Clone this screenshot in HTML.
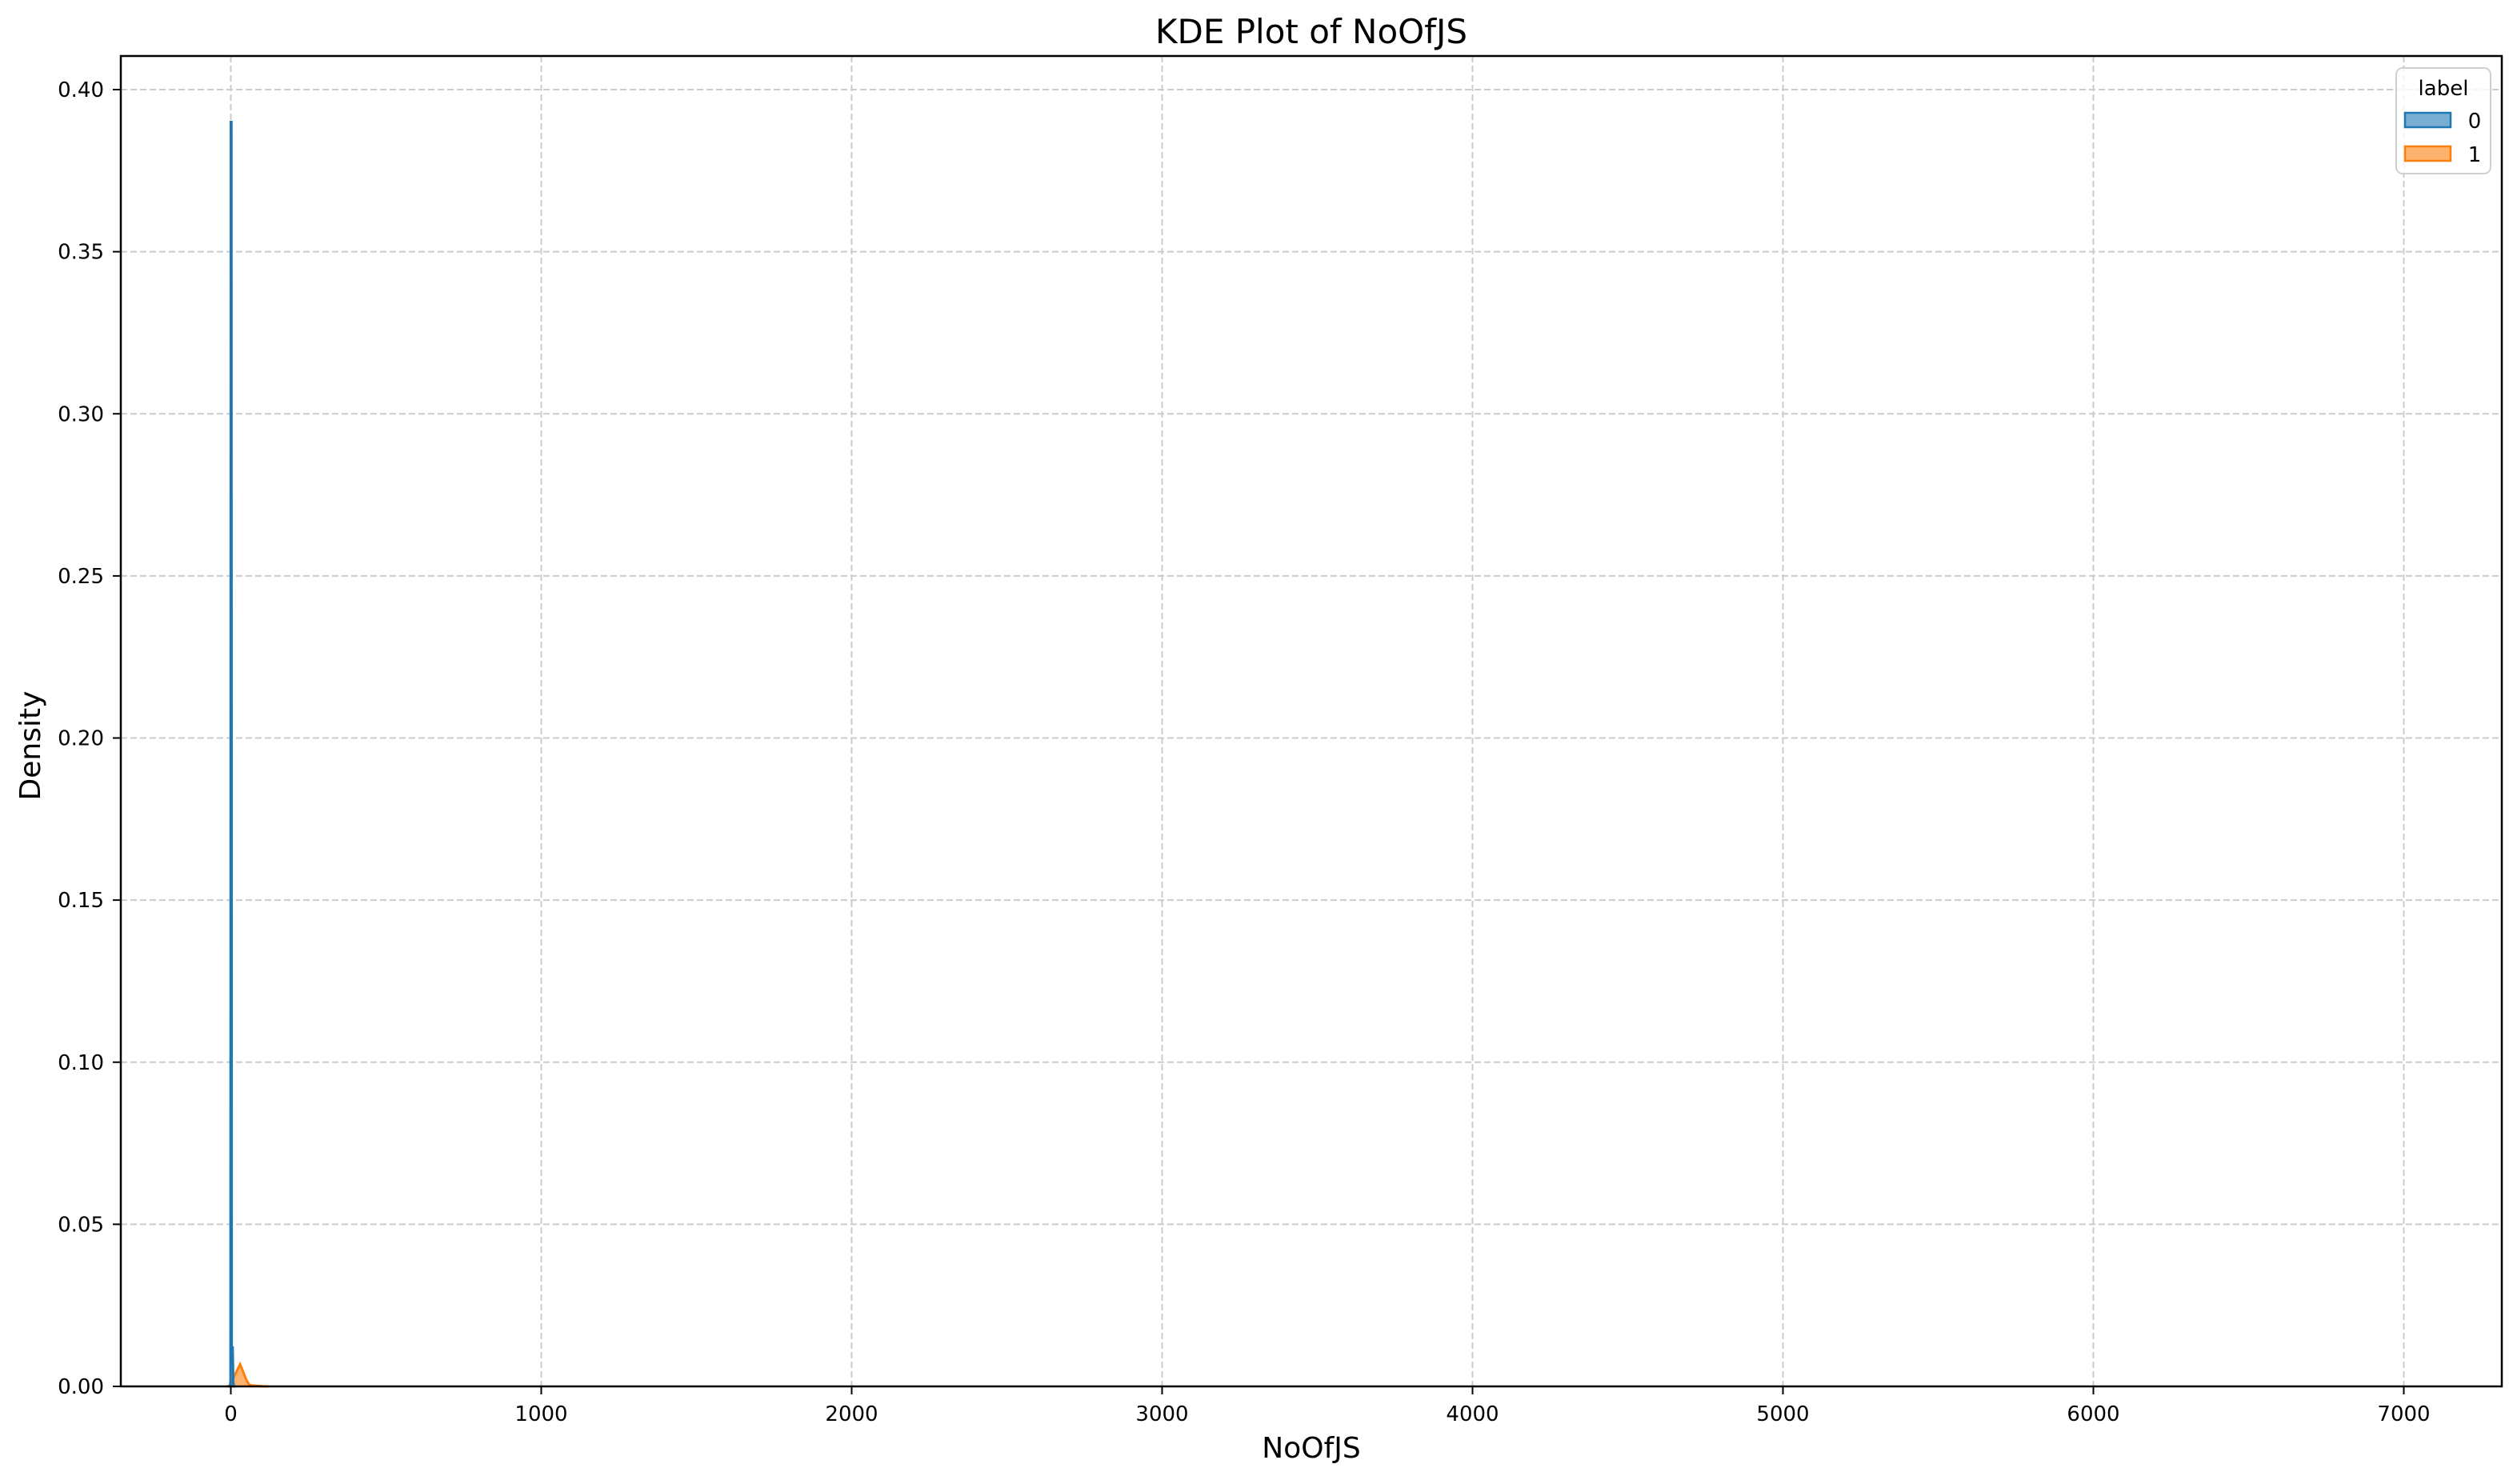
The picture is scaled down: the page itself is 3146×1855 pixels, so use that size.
<!DOCTYPE html>
<html><head><meta charset="utf-8"><style>
html,body{margin:0;padding:0;background:#fff;}
svg text{font-family:"DejaVu Sans","Liberation Sans",sans-serif;}
</style></head><body>
<svg id="chart" width="3146" height="1850" xmlns="http://www.w3.org/2000/svg">
<rect width="3146" height="1850" fill="#fff"/>
<text x="1639" y="54" font-size="42" text-anchor="middle">KDE Plot of NoOfJS</text>
<g id="grid"></g>
<g id="series"></g>
<rect x="151" y="70" width="2976" height="1663" fill="none" stroke="#000" stroke-width="2.5"/>
<g id="axes"></g>
<text x="1639" y="1822" font-size="36" text-anchor="middle">NoOfJS</text>
<text x="50" y="932" font-size="36" text-anchor="middle" transform="rotate(-90 50 932)">Density</text>
<g>
<rect x="2995" y="85" width="118" height="132" rx="8" fill="#fff" fill-opacity="0.8" stroke="#d0d0d0" stroke-width="2"/>
<text x="3054" y="119" font-size="26" text-anchor="middle">label</text>
<rect x="3006" y="141" width="57" height="18" fill="#1f77b4" fill-opacity="0.6" stroke="#1f77b4" stroke-width="2.5"/>
<text x="3093" y="160" font-size="26" text-anchor="middle">0</text>
<rect x="3006" y="183" width="57" height="18" fill="#ff7f0e" fill-opacity="0.6" stroke="#ff7f0e" stroke-width="2.5"/>
<text x="3093" y="202" font-size="26" text-anchor="middle">1</text>
</g>
</svg>
<script>
const xTicks = [0,1000,2000,3000,4000,5000,6000,7000];
const yTicks = [0,0.05,0.10,0.15,0.20,0.25,0.30,0.35,0.40];
const blueX = [-6,-2,-1,0,2,3,4,6,8,10,14];
const blueY = [0,0,0.002,0.39,0.39,0.012,0.012,0.012,0.001,0,0];
const orangeX = [-12,-4,0,10,30,50,60,80,100,120];
const orangeY = [0,0.0002,0.0008,0.003,0.0068,0.002,0.0004,0.0002,0.00005,0];
const X0=288.5, XS=388/1000, Y0=1733, YS=1621/0.40;
const sx=v=>X0+v*XS, sy=v=>Y0-v*YS;
const NS="http://www.w3.org/2000/svg";
const grid=document.getElementById('grid'), axes=document.getElementById('axes'), ser=document.getElementById('series');
function mk(tag,attrs,parent){const e=document.createElementNS(NS,tag);for(const k in attrs)e.setAttribute(k,attrs[k]);parent.appendChild(e);return e;}
xTicks.forEach(t=>{
 const g=mk('line',{x1:sx(t),x2:sx(t),y1:70,y2:1733,stroke:'#cccccc','stroke-width':2,'stroke-dasharray':'8,4'},grid);
 
 
 const tk=mk('line',{x1:sx(t),x2:sx(t),y1:1733,y2:1743,stroke:'#000','stroke-width':2},axes);
 
 
 const lb=mk('text',{x:sx(t),y:1776,'font-size':26,'text-anchor':'middle'},axes);
 lb.textContent=t;
 
 
});
yTicks.forEach(t=>{
 const g=mk('line',{x1:151,x2:3127,y1:sy(t),y2:sy(t),stroke:'#cccccc','stroke-width':2,'stroke-dasharray':'8,4'},grid);
 
 
 const tk=mk('line',{x1:141,x2:151,y1:sy(t),y2:sy(t),stroke:'#000','stroke-width':2},axes);
 
 
 const lb=mk('text',{x:130,y:sy(t)+9,'font-size':26,'text-anchor':'end'},axes);
 lb.textContent=t.toFixed(2);
 
 
});
function area(xs,ys,color,name){
 let d='M'+sx(xs[0])+','+sy(0);
 xs.forEach((x,i)=>{d+=' L'+sx(x)+','+sy(ys[i]);});
 d+=' L'+sx(xs[xs.length-1])+','+sy(0)+' Z';
 const f=mk('path',{d:d,fill:color,'fill-opacity':0.6,stroke:'none'},ser);
 
 
 let l='M'+xs.map((x,i)=>sx(x)+','+sy(ys[i])).join(' L');
 const p=mk('path',{d:l,fill:'none',stroke:color,'stroke-width':3},ser);
 
 
}
area(orangeX,orangeY,'#ff7f0e','kde-label-1');
area(blueX,blueY,'#1f77b4','kde-label-0');
</script>
</body></html>
